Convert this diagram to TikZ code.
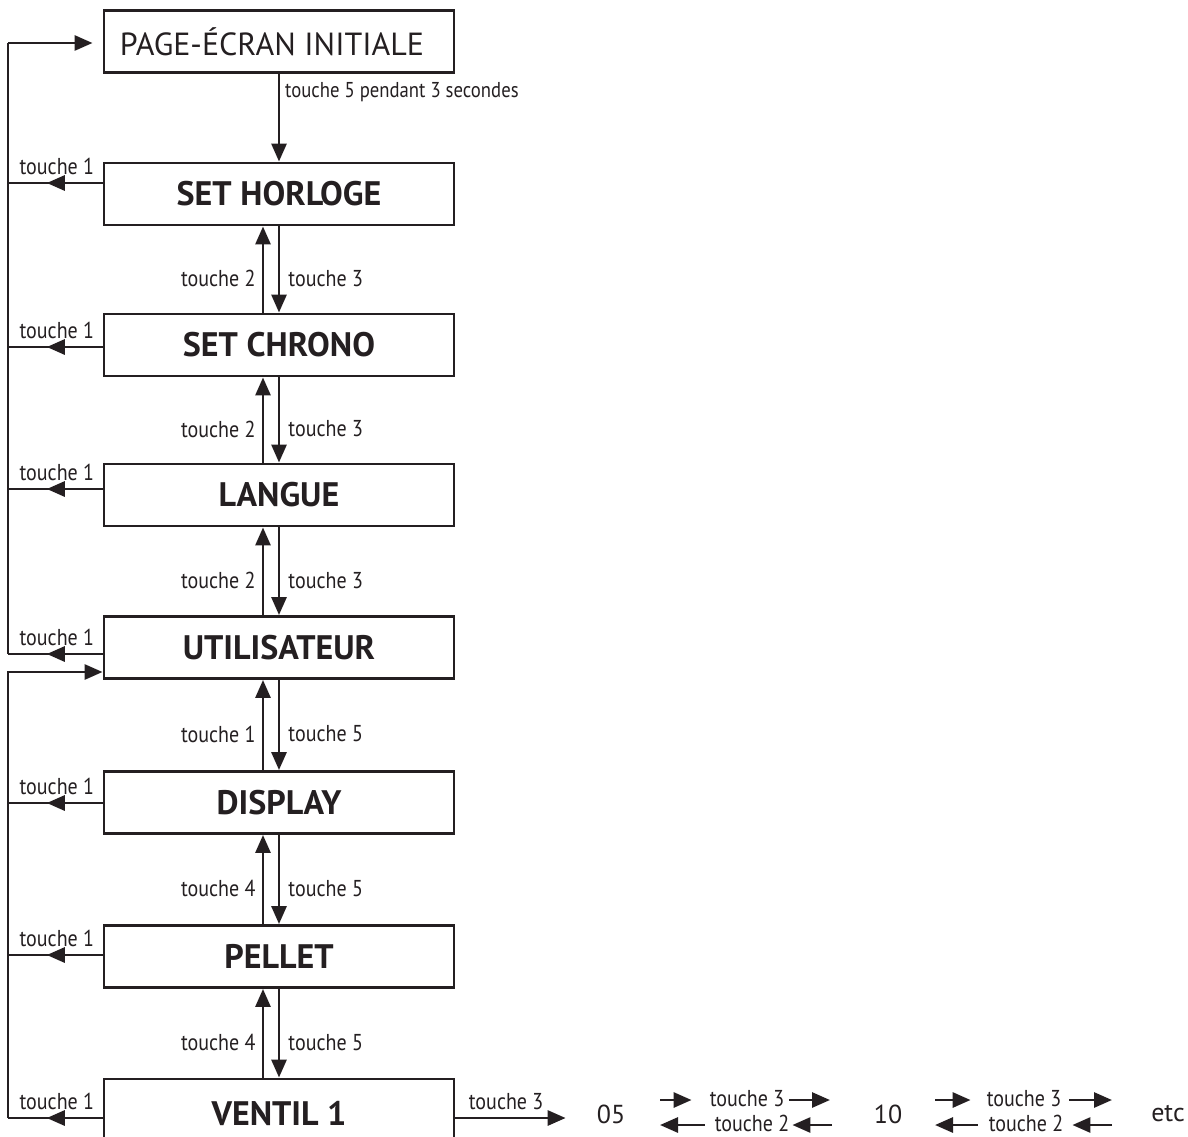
\documentclass[tikz,border=0pt]{standalone}
\usepackage{fontspec}
\setmainfont{PT Sans}
\newfontfamily\lblfont[FakeStretch=0.87]{PT Sans}
\usetikzlibrary{arrows.meta,calc,decorations.markings}
\definecolor{ink}{rgb}{0.14,0.12,0.13}

\begin{document}
\begin{tikzpicture}[x=1pt,y=-1pt,
  state/.style={draw=ink, line width=2.9pt, minimum width=350pt, minimum height=62pt,
    inner sep=0pt, text=ink, font=\bfseries\fontsize{34}{34}\selectfont},
  lbl/.style={font=\lblfont\fontsize{23}{23}\selectfont, inner sep=0pt, text=ink},
  num/.style={font=\fontsize{26}{26}\selectfont, inner sep=0pt, text=ink},
  wire/.style={line width=2.9pt, color=ink},
  tip/.style={-{Triangle[length=18pt,width=15pt]}},
  back/.style={wire, postaction={decorate}, decoration={markings,
    mark=at position 0.59 with {\arrow{Triangle[length=18pt,width=15pt]}}}},
]
\useasboundingbox (0,0) rectangle (1188,1137);
\clip (0,0) rectangle (1188,1137);

% menu boxes
\node[state] (page) at (279,41.5) {\mdseries\fontsize{32}{32}\selectfont\hspace*{-14pt}PAGE-ÉCRAN INITIALE};
\node[state] (horl) at (279,194) {SET HORLOGE};
\node[state] (chrono) at (279,345) {SET CHRONO};
\node[state] (langue) at (279,495) {LANGUE};
\node[state] (util) at (279,647.5) {UTILISATEUR};
\node[state] (display) at (279,802.5) {DISPLAY};
\node[state] (pellet) at (279,956.5) {PELLET};
\node[state, minimum height=68pt] (ventil) at (279,1113) {VENTIL 1};

% return rails on the left
\coordinate (L0) at (8,43);
\coordinate (L1) at (8,183);
\coordinate (L2) at (8,347);
\coordinate (L3) at (8,489);
\coordinate (L4) at (8,654);
\coordinate (M0) at (8,672);
\coordinate (M1) at (8,803);
\coordinate (M2) at (8,955);
\coordinate (M3) at (8,1118);

\draw[wire] (L0) -- (L4);
\draw[wire, tip, shorten >=10pt] (L0) -- (page.west |- L0);
\draw[wire, tip] (M3) -- (M0) -- (util.west |- M0);

\foreach \b/\c in {horl/L1, chrono/L2, langue/L3, util/L4, display/M1, pellet/M2, ventil/M3}{
  \draw[back] (\b.west |- \c) -- node[lbl, pos=0, anchor=base east, xshift=-7pt, yshift=9pt] {touche 1} (\c);
}

% start key
\draw[wire, tip] (page.south) -- (horl.north);
\node[lbl, font=\lblfont\fontsize{21.5}{21.5}\selectfont, anchor=west] (hold) at ($(page.south)+(6,18)$) {touche 5 pendant 3 secondes};

% up / down navigation between boxes
\foreach \a/\b/\u/\d in {horl/chrono/2/3, chrono/langue/2/3, langue/util/2/3,
                          util/display/1/5, display/pellet/4/5, pellet/ventil/4/5}{
  \draw[wire, tip] ($(\b.north)+(-16,0)$) -- node[lbl, midway, anchor=east, xshift=-6pt, yshift=-9pt] {touche \u} ($(\a.south)+(-16,0)$);
  \draw[wire, tip] (\a.south) -- node[lbl, midway, anchor=west, xshift=8pt, yshift=-9pt] {touche \d} (\b.north);
}

% fan speed values
\node[num] (v05) at (611,1114) {05};
\node[num] (v10) at (888,1114) {10};
\node[num] (etc) at (1168,1114) {etc};
\draw[wire, tip, shorten >=31pt] (ventil.east |- M3) -- node[lbl, pos=0, anchor=base west, xshift=12pt, yshift=9pt] {touche 3} (v05.west |- M3);

\node[lbl] (up1) at (747,1099) {touche 3};
\node[lbl] (dn1) at (752,1123) {touche 2};
\node[lbl] (up2) at (1024,1099) {touche 3};
\node[lbl] (dn2) at (1026,1123) {touche 2};

\coordinate (a1) at (660,1100);
\coordinate (a2) at (830,1100);
\coordinate (b1) at (660,1125);
\coordinate (b2) at (832,1125);
\coordinate (c1) at (935,1100);
\coordinate (c2) at (1112,1100);
\coordinate (d1) at (935,1125);
\coordinate (d2) at (1112,1125);

\draw[wire, tip] (a1) -- (a1 -| {$(up1.west)+(-18,0)$});
\draw[wire, tip] (a2 -| {$(up1.east)+(5,0)$}) -- (a2);
\draw[wire, tip] (b1 -| {$(dn1.west)+(-10,0)$}) -- (b1);
\draw[wire, tip] (b2) -- (b2 -| {$(dn1.east)+(3,0)$});
\draw[wire, tip] (c1) -- (c1 -| {$(up2.west)+(-16,0)$});
\draw[wire, tip] (c2 -| {$(up2.east)+(8,0)$}) -- (c2);
\draw[wire, tip] (d1 -| {$(dn2.west)+(-11,0)$}) -- (d1);
\draw[wire, tip] (d2) -- (d2 -| {$(dn2.east)+(9,0)$});
\end{tikzpicture}
\end{document}
